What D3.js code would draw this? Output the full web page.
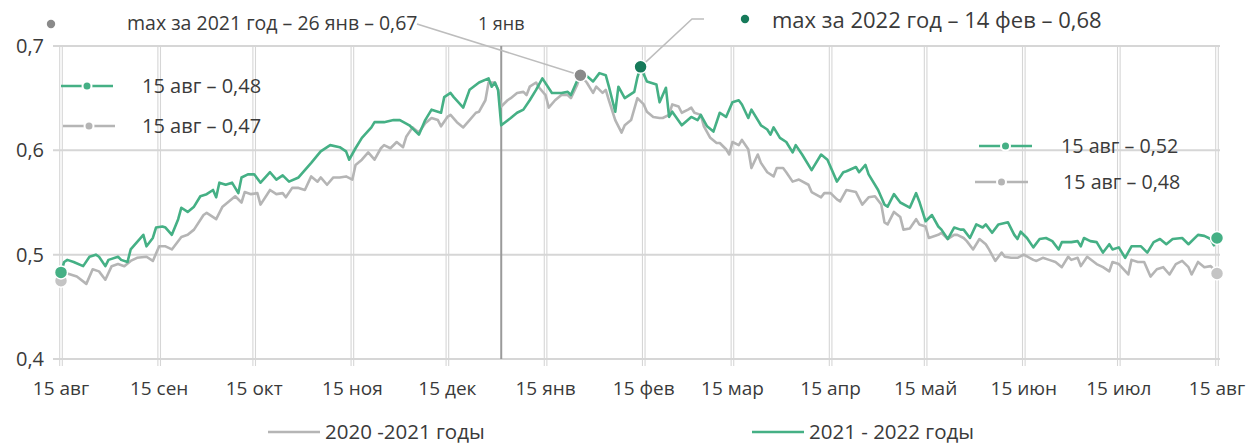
<!DOCTYPE html>
<html>
<head>
<meta charset="utf-8">
<script src="https://cdn.jsdelivr.net/npm/d3@7"></script>
<style>
  body { margin: 0; background: #fff; }
  svg text { font-family: "Open Sans", sans-serif; fill: #3a3a3a; }
</style>
</head>
<body>
<svg id="chart" width="1248" height="444"></svg>
<script>
// day offsets from 15 Aug
const season2021 = [
  [0,0.475],[1,0.483],[3,0.481],[5,0.479],[8,0.472],[10,0.486],[12,0.484],[14,0.476],[16,0.489],[18,0.491],
  [20,0.489],[22,0.494],[24,0.497],[27,0.498],[29,0.494],[31,0.508],[33,0.508],[35,0.505],[38,0.517],[40,0.519],
  [42,0.524],[45,0.538],[46,0.540],[49,0.534],[51,0.546],[53,0.551],[55,0.556],[57,0.550],[58,0.560],[60,0.558],
  [62,0.559],[63,0.548],[66,0.562],[68,0.558],[70,0.559],[71,0.555],[73,0.564],[75,0.564],[77,0.562],[79,0.575],
  [81,0.570],[82,0.574],[84,0.567],[86,0.574],[88,0.574],[90,0.575],[92,0.572],[93,0.586],[95,0.591],[97,0.598],
  [99,0.591],[101,0.602],[102,0.605],[104,0.602],[106,0.608],[108,0.603],[109,0.613],[111,0.622],[113,0.617],[115,0.626],
  [117,0.631],[119,0.629],[120,0.623],[122,0.632],[123,0.634],[125,0.627],[127,0.622],[129,0.629],[131,0.636],[132,0.637],
  [134,0.648],[135,0.665],[137,0.665],[138,0.658],[139,0.642],[141,0.648],[142,0.650],[144,0.655],[146,0.656],[147,0.653],
  [148,0.661],[150,0.665],[151,0.660],[153,0.653],[154,0.641],[156,0.648],[158,0.653],[160,0.653],[161,0.650],[163,0.663],
  [164,0.672],[166,0.665],[168,0.655],[169,0.661],[171,0.655],[172,0.658],[173,0.648],[175,0.629],[177,0.617],[178,0.624],
  [180,0.629],[182,0.650],[184,0.644],[185,0.637],[187,0.632],[189,0.631],[190,0.631],[192,0.634],[193,0.644],[195,0.642],
  [196,0.636],[198,0.639],[199,0.641],[200,0.636],[202,0.634],[203,0.623],[205,0.612],[207,0.607],[208,0.607],[210,0.601],
  [211,0.596],[212,0.608],[214,0.605],[215,0.610],[217,0.601],[218,0.583],[220,0.596],[221,0.588],[223,0.579],[225,0.575],
  [226,0.583],[228,0.583],[229,0.579],[231,0.570],[233,0.572],[236,0.567],[237,0.560],[240,0.555],[241,0.559],[243,0.559],
  [245,0.553],[246,0.551],[248,0.562],[251,0.560],[253,0.548],[255,0.555],[257,0.556],[259,0.548],[260,0.531],[261,0.529],
  [263,0.541],[265,0.536],[266,0.524],[268,0.525],[270,0.534],[271,0.529],[273,0.527],[274,0.516],[277,0.519],[278,0.521],
  [280,0.515],[282,0.519],[283,0.519],[285,0.516],[286,0.513],[288,0.505],[290,0.515],[292,0.510],[293,0.505],[295,0.494],
  [297,0.502],[298,0.498],[300,0.497],[302,0.497],[304,0.500],[307,0.495],[308,0.494],[310,0.497],[312,0.495],[314,0.493],
  [316,0.488],[318,0.498],[319,0.495],[321,0.497],[322,0.489],[324,0.498],[327,0.491],[329,0.488],[331,0.484],[332,0.493],
  [334,0.491],[337,0.481],[338,0.495],[340,0.493],[342,0.493],[344,0.479],[346,0.486],[348,0.488],[350,0.481],[352,0.491],
  [354,0.494],[356,0.488],[357,0.481],[359,0.493],[361,0.488],[363,0.489],[364,0.486],[365,0.482]
];

const season2122 = [
  [0,0.483],[1,0.493],[2,0.495],[4,0.493],[7,0.489],[9,0.498],[11,0.500],[12,0.498],[14,0.489],[15,0.495],
  [18,0.498],[19,0.495],[21,0.493],[22,0.505],[24,0.512],[26,0.519],[27,0.508],[29,0.516],[30,0.526],[32,0.527],
  [33,0.526],[35,0.519],[37,0.534],[38,0.545],[40,0.541],[42,0.546],[44,0.556],[46,0.558],[48,0.562],[49,0.555],
  [50,0.569],[52,0.567],[54,0.569],[56,0.559],[57,0.574],[59,0.577],[61,0.577],[63,0.569],[66,0.579],[68,0.572],
  [70,0.576],[72,0.570],[75,0.574],[79,0.588],[82,0.599],[85,0.605],[88,0.603],[90,0.599],[91,0.591],[93,0.602],
  [95,0.612],[98,0.622],[99,0.627],[102,0.627],[105,0.629],[107,0.629],[110,0.624],[113,0.615],[115,0.629],[117,0.639],
  [120,0.636],[121,0.651],[123,0.655],[124,0.651],[127,0.641],[129,0.658],[132,0.665],[135,0.669],[136,0.661],[137,0.665],
  [138,0.658],[139,0.624],[142,0.631],[144,0.636],[146,0.639],[148,0.648],[150,0.658],[152,0.669],[155,0.655],[158,0.655],
  [160,0.656],[161,0.653],[163,0.667],[165,0.674],[168,0.666],[170,0.674],[172,0.672],[173,0.661],[175,0.637],[176,0.661],
  [178,0.650],[181,0.656],[182,0.670],[183,0.680],[185,0.666],[188,0.663],[189,0.646],[191,0.660],[192,0.632],[193,0.637],
  [196,0.624],[199,0.632],[201,0.629],[202,0.634],[204,0.623],[206,0.618],[208,0.636],[210,0.632],[212,0.646],[214,0.648],
  [215,0.644],[217,0.631],[218,0.639],[221,0.624],[223,0.620],[224,0.615],[225,0.622],[227,0.612],[229,0.608],[231,0.598],
  [232,0.605],[234,0.596],[237,0.581],[240,0.596],[242,0.591],[243,0.584],[245,0.570],[247,0.579],[248,0.580],[251,0.584],
  [252,0.579],[254,0.586],[255,0.577],[258,0.562],[260,0.548],[261,0.546],[263,0.558],[265,0.550],[268,0.545],[270,0.559],
  [271,0.551],[273,0.532],[275,0.538],[277,0.527],[278,0.524],[280,0.515],[282,0.526],[284,0.524],[285,0.524],[287,0.516],
  [289,0.529],[291,0.526],[292,0.529],[294,0.521],[296,0.529],[299,0.531],[301,0.519],[302,0.515],[303,0.522],[305,0.516],
  [307,0.507],[309,0.515],[311,0.516],[313,0.513],[315,0.505],[316,0.512],[319,0.512],[321,0.513],[322,0.508],[323,0.516],
  [325,0.513],[327,0.512],[329,0.502],[331,0.510],[332,0.505],[334,0.507],[336,0.497],[338,0.508],[341,0.508],[343,0.502],
  [345,0.512],[347,0.515],[349,0.510],[351,0.515],[354,0.516],[356,0.510],[359,0.519],[361,0.518],[363,0.515],[364,0.509],
  [365,0.516]
];

const monthLabels = ['15 авг', '15 сен', '15 окт', '15 ноя', '15 дек', '15 янв', '15 фев',
  '15 мар', '15 апр', '15 май', '15 июн', '15 июл', '15 авг'];
const yTicks = [0.4, 0.5, 0.6, 0.7];
const seriesNames = ['2020 -2021 годы', '2021 - 2022 годы'];
const startLabels = ['15 авг – 0,48', '15 авг – 0,47'];
const endLabels = ['15 авг – 0,52', '15 авг – 0,48'];
const maxLabels = ['max за 2021 год – 26 янв – 0,67', 'max за 2022 год – 14 фев – 0,68'];

const green = '#45b085';
const grey = '#b5b5b5';
const darkGreen = '#167a5a';
const darkGrey = '#8a8a8a';
const gridColor = '#d6d6d6';

const svg = d3.select('#chart');
const start = new Date(2021, 7, 15);
const day = n => d3.timeDay.offset(start, n);

const x = d3.scaleTime()
  .domain([start, day(365)])
  .range([61, 1217]);
const y = d3.scaleLinear()
  .domain([0.4, 0.7])
  .range([359, 46]);

const tickDates = monthLabels.map((d, i) => d3.timeMonth.offset(start, i));

// grid
const grid = svg.append('g');
grid.selectAll('line.h')
  .data(yTicks)
  .join('line')
  .attr('x1', 53).attr('x2', 1220)
  .attr('y1', d => y(d)).attr('y2', d => y(d))
  .attr('stroke', gridColor)
  .attr('stroke-width', 2);
for (const off of [-1.3, 1.3]) {
  grid.selectAll(null)
    .data(tickDates)
    .join('line')
    .attr('x1', d => x(d) + off).attr('x2', d => x(d) + off)
    .attr('y1', 46).attr('y2', 366)
    .attr('stroke', gridColor)
    .attr('stroke-width', 1.1);
}

// y labels
svg.append('g').selectAll('text')
  .data(yTicks)
  .join('text')
  .attr('x', 44)
  .attr('y', d => y(d) + 7)
  .attr('text-anchor', 'end')
  .style('font-size', '20px')
  .text(d => d3.format('.1f')(d).replace('.', ','));

// x labels
svg.append('g').selectAll('text')
  .data(tickDates)
  .join('text')
  .attr('x', d => x(d))
  .attr('y', 395)
  .attr('text-anchor', 'middle')
  .style('font-size', '19px')
  .text((d, i) => monthLabels[i]);

// 1 Jan marker
const jan1 = new Date(2022, 0, 1);
svg.append('line')
  .attr('x1', x(jan1)).attr('x2', x(jan1))
  .attr('y1', 46).attr('y2', 359)
  .attr('stroke', '#9a9a9a')
  .attr('stroke-width', 2);
svg.append('text')
  .attr('x', x(jan1))
  .attr('y', 30)
  .attr('text-anchor', 'middle')
  .style('font-size', '18px')
  .text('1 янв');

const line = d3.line()
  .x(d => x(day(d[0])))
  .y(d => y(d[1]));

svg.append('path')
  .datum(season2021)
  .attr('d', line)
  .attr('fill', 'none')
  .attr('stroke', grey)
  .attr('stroke-width', 2.6)
  .attr('stroke-linejoin', 'round');
svg.append('path')
  .datum(season2122)
  .attr('d', line)
  .attr('fill', 'none')
  .attr('stroke', green)
  .attr('stroke-width', 2.6)
  .attr('stroke-linejoin', 'round');

const dot = (d, r, color) => svg.append('circle')
  .attr('cx', x(day(d[0]))).attr('cy', y(d[1]))
  .attr('r', r)
  .attr('fill', color)
  .attr('stroke', '#fff')
  .attr('stroke-width', 1.5);

// start and end markers
dot(season2021[0], 6.5, '#c4c4c4');
dot(season2122[0], 6.5, green);
dot(season2021[season2021.length - 1], 6.5, '#c4c4c4');
dot(season2122[season2122.length - 1], 6.5, green);

// max annotations
const max2021 = d3.greatest(season2021, d => d[1]);
const max2122 = d3.greatest(season2122, d => d[1]);

svg.append('polyline')
  .attr('points', [[417, 24], [x(day(max2021[0])), y(max2021[1])]].join(' '))
  .attr('fill', 'none')
  .attr('stroke', '#bdbdbd')
  .attr('stroke-width', 1.5);
svg.append('polyline')
  .attr('points', [[x(day(max2122[0])), y(max2122[1])], [692, 19], [704, 19]].join(' '))
  .attr('fill', 'none')
  .attr('stroke', '#bdbdbd')
  .attr('stroke-width', 1.5);
dot(max2021, 6.5, darkGrey);
dot(max2122, 6.5, darkGreen);

svg.append('circle').attr('cx', 51).attr('cy', 24).attr('r', 4.2).attr('fill', darkGrey);
svg.append('text').attr('x', 127).attr('y', 30).style('font-size', '19.5px').text(maxLabels[0]);
svg.append('circle').attr('cx', 745).attr('cy', 19).attr('r', 4.2).attr('fill', darkGreen);
svg.append('text').attr('x', 772).attr('y', 28).style('font-size', '22px').text(maxLabels[1]);

// point legends with a marker on a short line
const keyMark = (x1, x2, cy, color, label, tx, size) => {
  svg.append('line')
    .attr('x1', x1).attr('x2', x2)
    .attr('y1', cy).attr('y2', cy)
    .attr('stroke', color)
    .attr('stroke-width', 2.6);
  svg.append('circle')
    .attr('cx', (x1 + x2) / 2).attr('cy', cy)
    .attr('r', 4.5)
    .attr('fill', color)
    .attr('stroke', '#fff')
    .attr('stroke-width', 2);
  svg.append('text')
    .attr('x', tx).attr('y', cy + 7)
    .style('font-size', size)
    .text(label);
};
keyMark(61, 113, 86, green, startLabels[0], 142, '20px');
keyMark(63, 115, 126, grey, startLabels[1], 142, '20px');
keyMark(979, 1032, 146, green, endLabels[0], 1061, '19.7px');
keyMark(975, 1028, 182, grey, endLabels[1], 1063, '19.7px');

// series legend
const legend = [[268, grey, seriesNames[0]], [752, green, seriesNames[1]]];
for (const [lx, color, name] of legend) {
  svg.append('line')
    .attr('x1', lx).attr('x2', lx + 52)
    .attr('y1', 432).attr('y2', 432)
    .attr('stroke', color)
    .attr('stroke-width', 2.6);
  svg.append('text')
    .attr('x', lx + 57).attr('y', 439)
    .style('font-size', '20.5px')
    .text(name);
}
</script>
</body>
</html>
